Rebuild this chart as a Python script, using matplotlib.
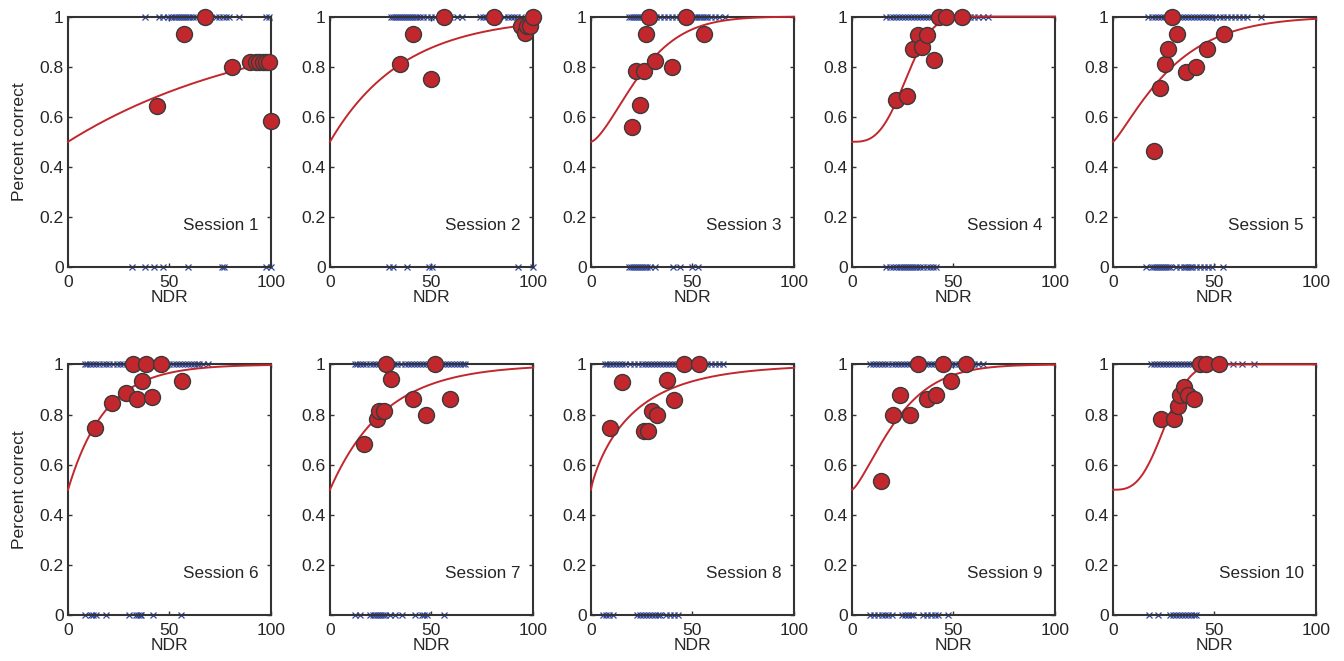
import numpy as np
import matplotlib
matplotlib.use("Agg")
import matplotlib.pyplot as plt

plt.rcParams['font.family'] = ['Liberation Sans', 'DejaVu Sans']

SESSIONS = ["Session 1", "Session 2", "Session 3", "Session 4", "Session 5",
            "Session 6", "Session 7", "Session 8", "Session 9", "Session 10"]

# Binned percent-correct points (NDR, proportion correct)
PTS_X = [
    [43.8, 57.4, 67.5, 81.0, 89.7, 92.6, 94.3, 95.9, 97.5, 99.2, 100.0],
    [34.3, 40.9, 49.9, 56.0, 80.7, 94.0, 96.0, 97.2, 98.5, 100.0],
    [20.3, 22.1, 24.1, 26.1, 27.0, 28.7, 31.8, 40.0, 47.0, 55.6],
    [21.8, 27.0, 30.0, 32.4, 34.7, 37.2, 40.4, 43.0, 46.3, 54.0],
    [20.2, 23.4, 25.5, 27.1, 29.1, 31.6, 35.9, 41.1, 46.5, 54.8],
    [13.1, 21.8, 28.4, 32.0, 34.1, 36.6, 38.5, 41.3, 45.9, 56.1],
    [16.8, 23.1, 24.4, 26.4, 27.5, 30.0, 40.7, 47.3, 51.6, 59.3],
    [9.3, 15.4, 26.2, 28.2, 30.3, 32.6, 37.5, 41.0, 45.7, 53.1],
    [14.4, 20.1, 23.7, 28.6, 32.4, 37.2, 41.2, 44.7, 48.8, 56.0],
    [23.5, 29.9, 32.1, 33.2, 34.9, 37.0, 40.0, 42.8, 45.6, 52.1],
]
PTS_Y = [
    [0.644, 0.932, 1.0, 0.80, 0.82, 0.82, 0.82, 0.82, 0.82, 0.82, 0.583],
    [0.811, 0.932, 0.749, 1.0, 1.0, 0.963, 0.935, 0.963, 0.963, 1.0],
    [0.561, 0.782, 0.646, 0.782, 0.932, 1.0, 0.822, 0.80, 1.0, 0.932],
    [0.666, 0.684, 0.869, 0.926, 0.877, 0.926, 0.825, 1.0, 1.0, 1.0],
    [0.465, 0.713, 0.81, 0.872, 1.0, 0.93, 0.778, 0.80, 0.872, 0.932],
    [0.748, 0.846, 0.887, 1.0, 0.863, 0.936, 1.0, 0.872, 1.0, 0.936],
    [0.684, 0.781, 0.813, 0.813, 1.0, 0.943, 0.863, 0.80, 1.0, 0.863],
    [0.748, 0.932, 0.733, 0.733, 0.814, 0.80, 0.94, 0.857, 1.0, 1.0],
    [0.534, 0.80, 0.88, 0.80, 1.0, 0.863, 0.88, 1.0, 0.936, 1.0],
    [0.784, 0.784, 0.833, 0.88, 0.91, 0.88, 0.863, 1.0, 1.0, 1.0],
]

# Individual trials: NDR of correct (y=1) and incorrect (y=0) trials
CORRECT_X = [
    [38, 44.8, 46.7, 49.2, 50.8, 52, 53, 54, 55, 56, 57, 58, 59, 60, 61.5, 63, 66.4,
     73, 74.6, 76.2, 77.9, 79.5, 84.4, 97.5, 99.2],
    [30, 31, 32, 33, 34, 35, 36, 37, 38, 39, 40, 41, 42, 43, 44.5, 46, 48, 50, 52, 54,
     56, 58, 59, 62.6, 65, 74, 75.5, 77, 79, 86, 87.5, 89, 90.5, 92, 94, 100],
    [18.5, 19.5, 20.5, 21.5, 22.5, 23.5, 24.5, 25.5, 26.5, 27.5, 28.5, 29.5, 30.5, 32,
     34, 36, 38, 40, 42, 44, 47, 48, 49, 50, 51, 52, 53, 54, 55, 56, 57, 59, 61, 63, 66],
    [17, 18.5, 20, 21.5, 23, 24.5, 26, 27.5, 29, 30.5, 32, 33.5, 35, 36.5, 38, 39.5, 41,
     42.5, 44, 45.5, 47, 48.5, 50, 51.5, 53, 54.5, 56.5, 58, 60, 62, 64.5, 67],
    [17.3, 19, 20.5, 22, 23.5, 25, 26.5, 28, 29.5, 31, 32.5, 34, 35.5, 37, 38.5, 40, 41.5,
     43, 44.5, 46, 47.5, 49, 50.5, 52.6, 54, 56, 58, 60, 62, 64, 66, 73],
    [8.2, 9.5, 11, 12.5, 14, 15.5, 17, 18.5, 20, 22, 24, 25.5, 27, 29, 31, 33, 35, 37, 39,
     41, 43, 45, 47, 48.5, 50, 51.5, 53, 54.5, 56, 57.5, 59, 60.5, 62, 63.5, 64.7, 66.4, 68.9],
    [12.4, 13.5, 15, 16.5, 18, 19.5, 21, 22.5, 24, 25.5, 27, 28.5, 30, 31.5, 33, 35, 37,
     38.5, 40, 41.5, 43, 44.5, 46, 47.5, 49, 50.5, 52, 53.5, 55, 56.5, 58, 59.5, 61, 62.5,
     64, 65.5, 66.7],
    [6.9, 8, 9.5, 11, 12.5, 14, 15.5, 17, 19, 21, 23, 25, 26.5, 28, 29.5, 31, 32.5, 34,
     35.5, 37, 38.5, 40, 41.5, 43, 44.5, 46, 47.5, 49, 50.5, 52, 53.5, 55, 57, 59, 61, 63, 65],
    [9, 10.5, 12, 13.5, 15, 16.5, 18, 19.5, 21, 22.5, 24, 25.5, 27, 28.5, 30, 31.5, 33,
     34.5, 36, 37.5, 39, 40.5, 42, 43.5, 45, 46.5, 48, 49.5, 51, 52.5, 54, 55.5, 57, 58.5,
     60, 62, 64.6],
    [18.9, 20, 21.5, 23, 24.5, 26, 27.5, 29, 30.5, 32, 33.5, 35, 36.5, 38, 39.5, 41, 42.5,
     44, 45.5, 47, 48.5, 50, 51.5, 52.6, 58.9, 63.8, 69.6],
]
WRONG_X = [
    [31.6, 38, 42.6, 46.7, 59, 75.9, 77, 97.5, 100],
    [29.3, 31.3, 37.9, 48.6, 50.2, 92.8, 100],
    [18.5, 19.5, 20.5, 21.5, 22.5, 23.5, 24.5, 25.5, 26.5, 27.5, 29, 31.8, 40.5, 43.8, 50, 52.5],
    [17, 18.5, 20, 21.5, 23, 24, 25, 26, 27, 28, 29, 30, 31, 32, 33.5, 35, 37, 38.5, 40, 41.5],
    [16.4, 19, 20, 21, 22, 23, 24, 25, 26, 27, 28, 31, 33, 35, 36, 37, 38, 39, 41, 43, 45,
     47, 49, 54],
    [8.2, 11.5, 12.5, 14, 18.9, 30.3, 33.6, 34.5, 35.3, 36, 41.8, 55.7],
    [12.4, 14.8, 19.8, 21, 22, 23, 24, 25, 26, 27.2, 29.7, 32.1, 35.4, 42, 45.3, 46.5,
     47.8, 56],
    [6, 7.5, 9, 11, 22.5, 24, 25.5, 27, 28.5, 30, 31.5, 33, 34, 37, 39, 41, 43],
    [9, 11, 13, 15, 16.5, 18, 19.6, 24.5, 26, 27.5, 29, 30.3, 35, 37, 39, 41, 42.6, 47.5],
    [18, 22.2, 28, 29.5, 31, 32.5, 34, 35.5, 37, 38.5, 40, 41],
]

# Weibull psychometric fit parameters (threshold alpha, slope beta), guess rate 0.5
FIT_ALPHA = [98, 36, 28.8, 30, 31.5, 18.5, 27, 22, 25.5, 28.7]
FIT_BETA = [1.0, 1.0, 1.5, 3.0, 1.2, 1.0, 1.0, 0.85, 1.35, 3.0]

XTICKS = [0, 50, 100]
YTICKS = [0, 0.2, 0.4, 0.6, 0.8, 1.0]
YTICKLABELS = ["0", "0.2", "0.4", "0.6", "0.8", "1"]

RED = "#c1272d"
BLUE = "#33479f"
EDGE = "#3a3a3a"
AX = "#333333"
TXT = "#262626"
FS = 12.6

fig = plt.figure(figsize=(13.44, 6.61), dpi=100)
lefts = [0.0506, 0.2455, 0.4397, 0.6339, 0.8281]
bottoms = [0.596, 0.0696]
W, H = 0.151, 0.379

xs = np.linspace(0, 100, 400)
for i in range(10):
    r, c = divmod(i, 5)
    ax = fig.add_axes([lefts[c], bottoms[r], W, H])
    ax.set_xlim(0, 100)
    ax.set_ylim(0, 1)
    ax.plot(CORRECT_X[i], [1] * len(CORRECT_X[i]), ls="none", marker="x",
            ms=3.8, mew=0.9, color=BLUE, clip_on=False, zorder=2)
    ax.plot(WRONG_X[i], [0] * len(WRONG_X[i]), ls="none", marker="x",
            ms=3.8, mew=0.9, color=BLUE, clip_on=False, zorder=2)
    ys = 1 - 0.5 * np.exp(-(xs / FIT_ALPHA[i]) ** FIT_BETA[i])
    ax.plot(xs, ys, color=RED, lw=1.4, clip_on=False, zorder=3)
    ax.plot(PTS_X[i], PTS_Y[i], ls="none", marker="o", ms=11.5,
            mfc=RED, mec=EDGE, mew=1.0, clip_on=False, zorder=4)
    ax.set_xticks(XTICKS)
    ax.set_yticks(YTICKS)
    labels = list(YTICKLABELS)
    if i == 6:
        labels[0] = ""
    ax.set_yticklabels(labels)
    ax.tick_params(direction="in", top=True, right=True, length=3,
                   width=1.0, color=AX, labelsize=FS, labelcolor=TXT, pad=3)
    ax.tick_params(axis="x", pad=6)
    for s in ax.spines.values():
        s.set_linewidth(1.5)
        s.set_color(AX)
        s.set_zorder(2.5)
    ax.set_xlabel("NDR", fontsize=FS, color=TXT, labelpad=0)
    if c == 0:
        ax.set_ylabel("Percent correct", fontsize=FS, color=TXT, labelpad=9)
    ax.text(94, 0.165, SESSIONS[i], ha="right", va="center", fontsize=12.3,
            color=TXT)

fig.savefig("out.png", dpi=100)
